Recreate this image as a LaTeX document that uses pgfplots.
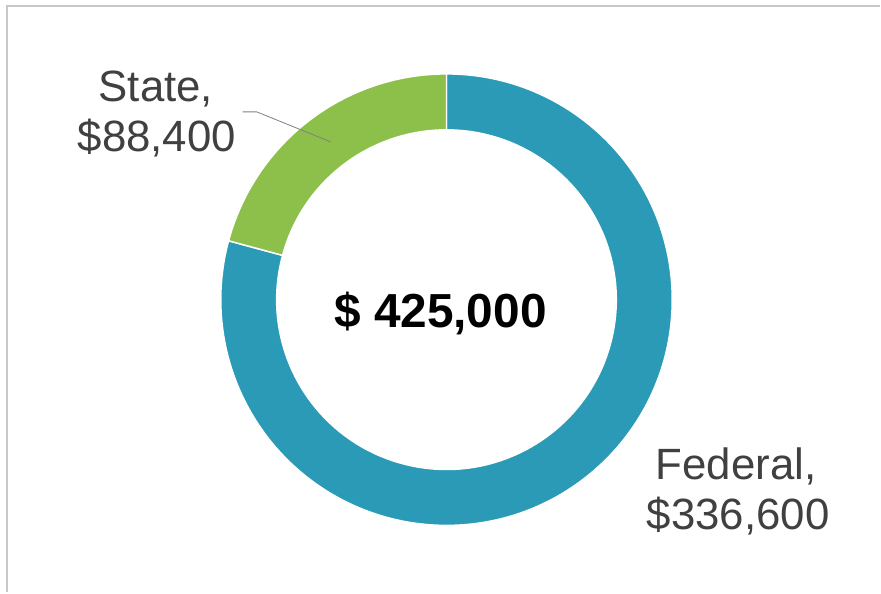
\documentclass[border=0pt]{standalone}
\usepackage{pgfplots}
\pgfplotsset{compat=1.18}
\usepackage{pgfplotstable}
\usetikzlibrary{calc}
\usepackage{fontspec}
\setmainfont{Liberation Sans}
\definecolor{fed}{HTML}{2B9AB7}
\definecolor{sta}{HTML}{8CC04B}
\definecolor{txt}{HTML}{404040}
\definecolor{brd}{HTML}{C8C8C8}
\pgfplotstableread{
name value
State 88400
Federal 336600
}\funding
\begin{document}
\begin{tikzpicture}
\pgfplotstablegetelem{0}{value}\of\funding \edef\vstate{\pgfplotsretval}
\pgfplotstablegetelem{1}{value}\of\funding \edef\vfed{\pgfplotsretval}
\edef\astate{\fpeval{round(90+360*\vstate/(\vstate+\vfed),3)}}
\edef\afed{\fpeval{round(90-360*\vfed/(\vstate+\vfed),3)}}
\begin{axis}[width=881bp,height=593bp,scale only axis,
  xmin=0,xmax=881,ymin=0,ymax=593,hide axis,clip=false]
\fill[white] (axis cs:0,0) rectangle (axis cs:881,593);
\draw[brd,line width=2bp] (axis cs:7,0) -- (axis cs:7,587) -- (axis cs:881,587);
% Federal
\filldraw[fill=fed,draw=white,line width=1.5bp]
  ($(axis cs:447,293)+(90:226bp)$) arc[start angle=90,end angle=\afed,radius=226bp]
  -- ($(axis cs:447,293)+(\afed:170bp)$) arc[start angle=\afed,end angle=90,radius=170bp] -- cycle;
% State
\filldraw[fill=sta,draw=white,line width=1.5bp]
  ($(axis cs:447,293)+(90:226bp)$) arc[start angle=90,end angle=\astate,radius=226bp]
  -- ($(axis cs:447,293)+(\astate:170bp)$) arc[start angle=\astate,end angle=90,radius=170bp] -- cycle;
% leader line
\draw[gray,line width=0.8bp] (axis cs:243,481) -- (axis cs:257,481) -- (axis cs:331,451);
% labels
\node[anchor=base,text=txt,font=\fontsize{44}{52}\selectfont] at (axis cs:156,491) {State,};
\node[anchor=base,text=txt,font=\fontsize{44}{52}\selectfont] at (axis cs:157,441) {\$88,400};
\node[anchor=base,text=txt,font=\fontsize{44}{52}\selectfont] at (axis cs:737,113) {Federal,};
\node[anchor=base,text=txt,font=\fontsize{44}{52}\selectfont] at (axis cs:739,63) {\$336,600};
\node[anchor=base,text=black,font=\fontsize{48}{56}\selectfont\bfseries] at (axis cs:441,265) {\$ 425,000};
\end{axis}
\end{tikzpicture}
\end{document}
